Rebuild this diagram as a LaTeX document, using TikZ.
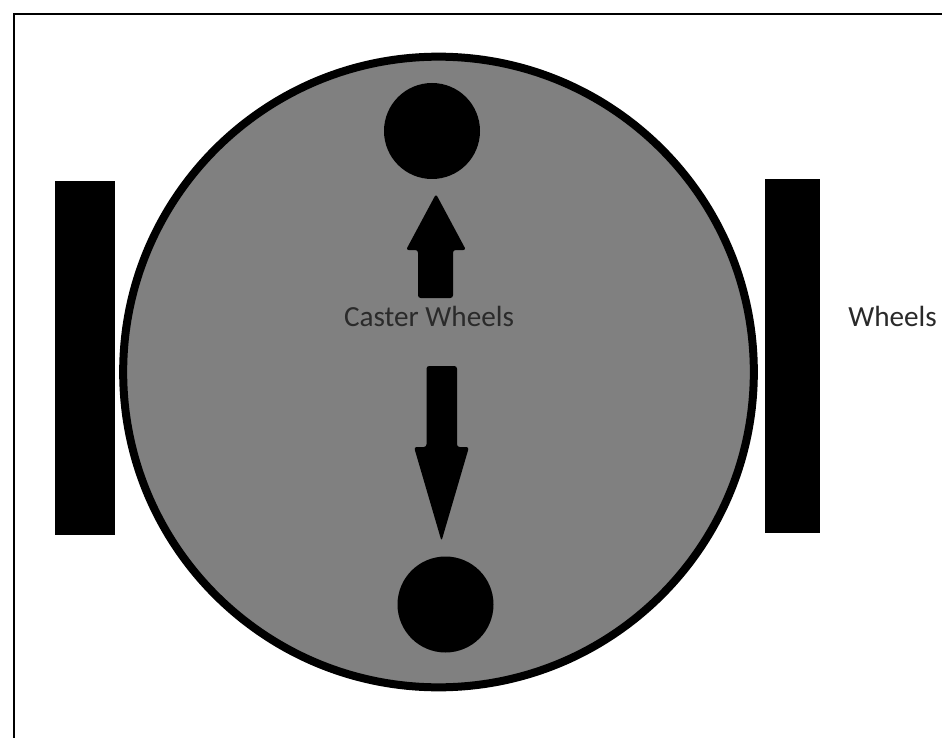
\documentclass[tikz,border=0pt]{standalone}
\usepackage{fontspec}
\setmainfont{Carlito}
\usepackage{tikz}
\usetikzlibrary{positioning}
\definecolor{bodygray}{HTML}{808080}
\definecolor{labelgray}{HTML}{2A2A2A}
\tikzset{
  wheelbar/.style={fill=black, draw=none, minimum width=#1, inner sep=0pt},
  casterwheel/.style={circle, fill=black, minimum size=72pt, inner sep=0pt},
  wheellabel/.style={text=labelgray, font=\fontsize{21.9pt}{24pt}\selectfont, inner sep=0pt}
}
\begin{document}
\begin{tikzpicture}[x=0.75pt, y=-0.75pt]
    \useasboundingbox (0,0) rectangle (942,738);
    \fill[white] (0,0) rectangle (942,738);
    % frame
    \draw[black, line width=1.5pt] (14,738) -- (14,14.5) -- (942,14.5);
    % body
    \node[circle, draw=black, fill=bodygray, line width=6pt, minimum size=473pt, inner sep=0pt] (body) at (438.5,372) {};
    % side wheels
    \node[wheelbar=45pt, minimum height=265.5pt] (leftwheel) at (85,358) {};
    \node[wheelbar=41.25pt, minimum height=265pt] (rightwheel) at (792.5,356) {};
    % caster wheels
    \node[casterwheel] (topcaster) at (432,131) {};
    \node[casterwheel] (bottomcaster) at (445.5,604.5) {};
    % labels
    \node[wheellabel] (casterlabel) at (429,316) {Caster Wheels};
    \node[wheellabel, anchor=west] (wheelslabel) at (848,316) {Wheels};
    % pointers
    \fill[black, rounded corners=2pt] (418,298) -- (418,250) -- (406,250) -- (436,194) -- (466,250) -- (453,250) -- (453,298) -- cycle;
    \fill[black, rounded corners=2pt] (426.5,366) -- (457,366) -- (457,447) -- (469,447) -- (441.5,541) -- (414,447) -- (426.5,447) -- cycle;
\end{tikzpicture}
\end{document}
